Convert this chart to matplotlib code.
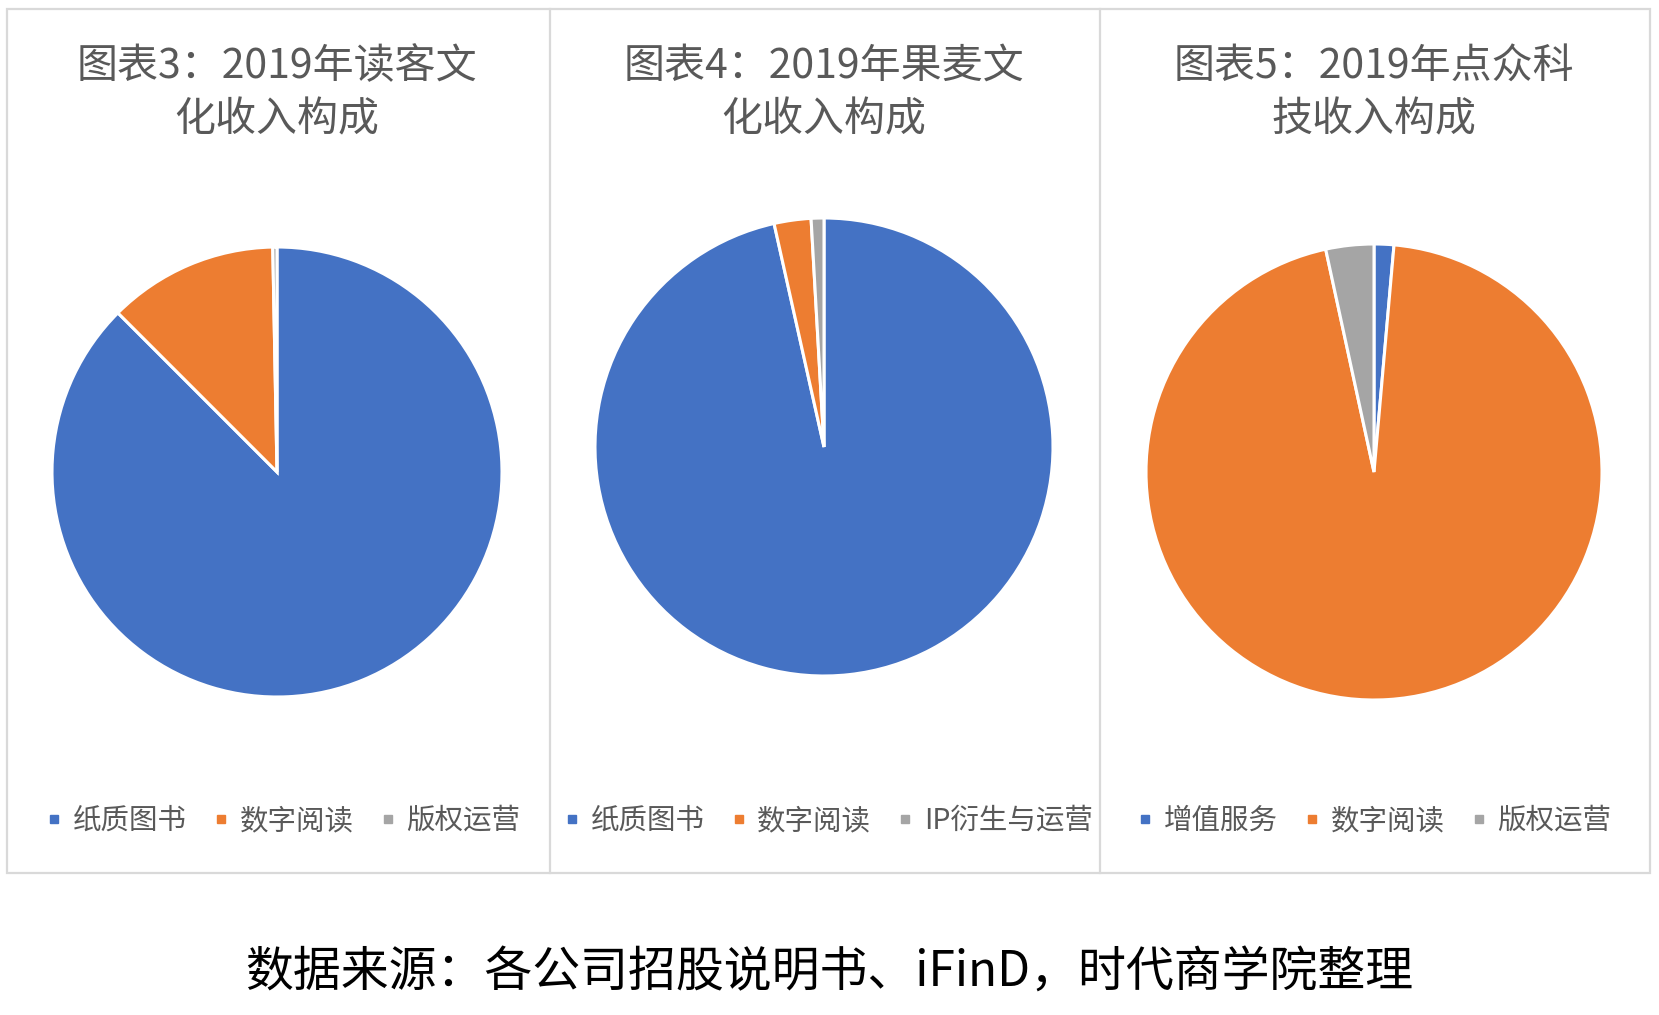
import matplotlib
matplotlib.use("Agg")
import matplotlib.pyplot as plt
from matplotlib.lines import Line2D
from matplotlib.patches import Rectangle

plt.rcParams['font.family'] = ['Noto Sans CJK SC', 'DejaVu Sans']

# Data (percent of revenue, 2019)
titles = ["图表3：2019年读客文\n化收入构成",
          "图表4：2019年果麦文\n化收入构成",
          "图表5：2019年点众科\n技收入构成"]
labels_1 = ["纸质图书", "数字阅读", "版权运营"]
values_1 = [87.5, 12.2, 0.3]
labels_2 = ["纸质图书", "数字阅读", "IP衍生与运营"]
values_2 = [96.5, 2.6, 0.9]
labels_3 = ["增值服务", "数字阅读", "版权运营"]
values_3 = [1.4, 95.2, 3.4]
source = "数据来源：各公司招股说明书、iFinD，时代商学院整理"

colors = ["#4472C4", "#ED7D31", "#A5A5A5"]
text_color = "#595959"

W, H = 1659, 1015
fig = plt.figure(figsize=(W / 100, H / 100), dpi=100)

# outer frame and dividers
frame = Rectangle((7 / W, 1 - 873 / H), (1650 - 7) / W, (873 - 9) / H,
                  transform=fig.transFigure, fill=False,
                  edgecolor="#D9D9D9", linewidth=1.6)
fig.add_artist(frame)
for xd in [550, 1100]:
    fig.add_artist(Line2D([xd / W, xd / W], [1 - 9 / H, 1 - 873 / H],
                          transform=fig.transFigure, color="#D9D9D9", linewidth=1.6))

panels = [
    (titles[0], labels_1, values_1, 277, 472, 225, 93, 283),
    (titles[1], labels_2, values_2, 824, 447, 229, 93, 828),
    (titles[2], labels_3, values_3, 1374, 472, 228, 93, 1374),
]

for title, labels, values, cx, cy, r, ty, lx in panels:
    ax = fig.add_axes([(cx - r) / W, (H - cy - r) / H, 2 * r / W, 2 * r / H])
    ax.pie(values, colors=colors, startangle=90, counterclock=False,
           wedgeprops=dict(edgecolor="white", linewidth=2.2))
    ax.set_aspect("equal")
    ax.set_xlim(-1, 1)
    ax.set_ylim(-1, 1)
    ax.axis("off")

    fig.text(cx / W, 1 - ty / H, title, ha="center", va="center",
             fontsize=29.5, color=text_color, linespacing=1.4)

    handles = [Line2D([], [], marker="s", linestyle="none", markersize=6,
                      color=c) for c in colors]
    fig.legend(handles, labels, loc="center", ncol=3,
               bbox_to_anchor=(lx / W, 1 - 821 / H), frameon=False,
               fontsize=20.5, labelcolor=text_color, handlelength=0.6,
               handletextpad=0.35, columnspacing=0.9)

fig.text(0.5, 1 - 973 / H, source, ha="center", va="center",
         fontsize=34.5, color="black", fontweight="medium")

fig.savefig("out.png", dpi=100)
